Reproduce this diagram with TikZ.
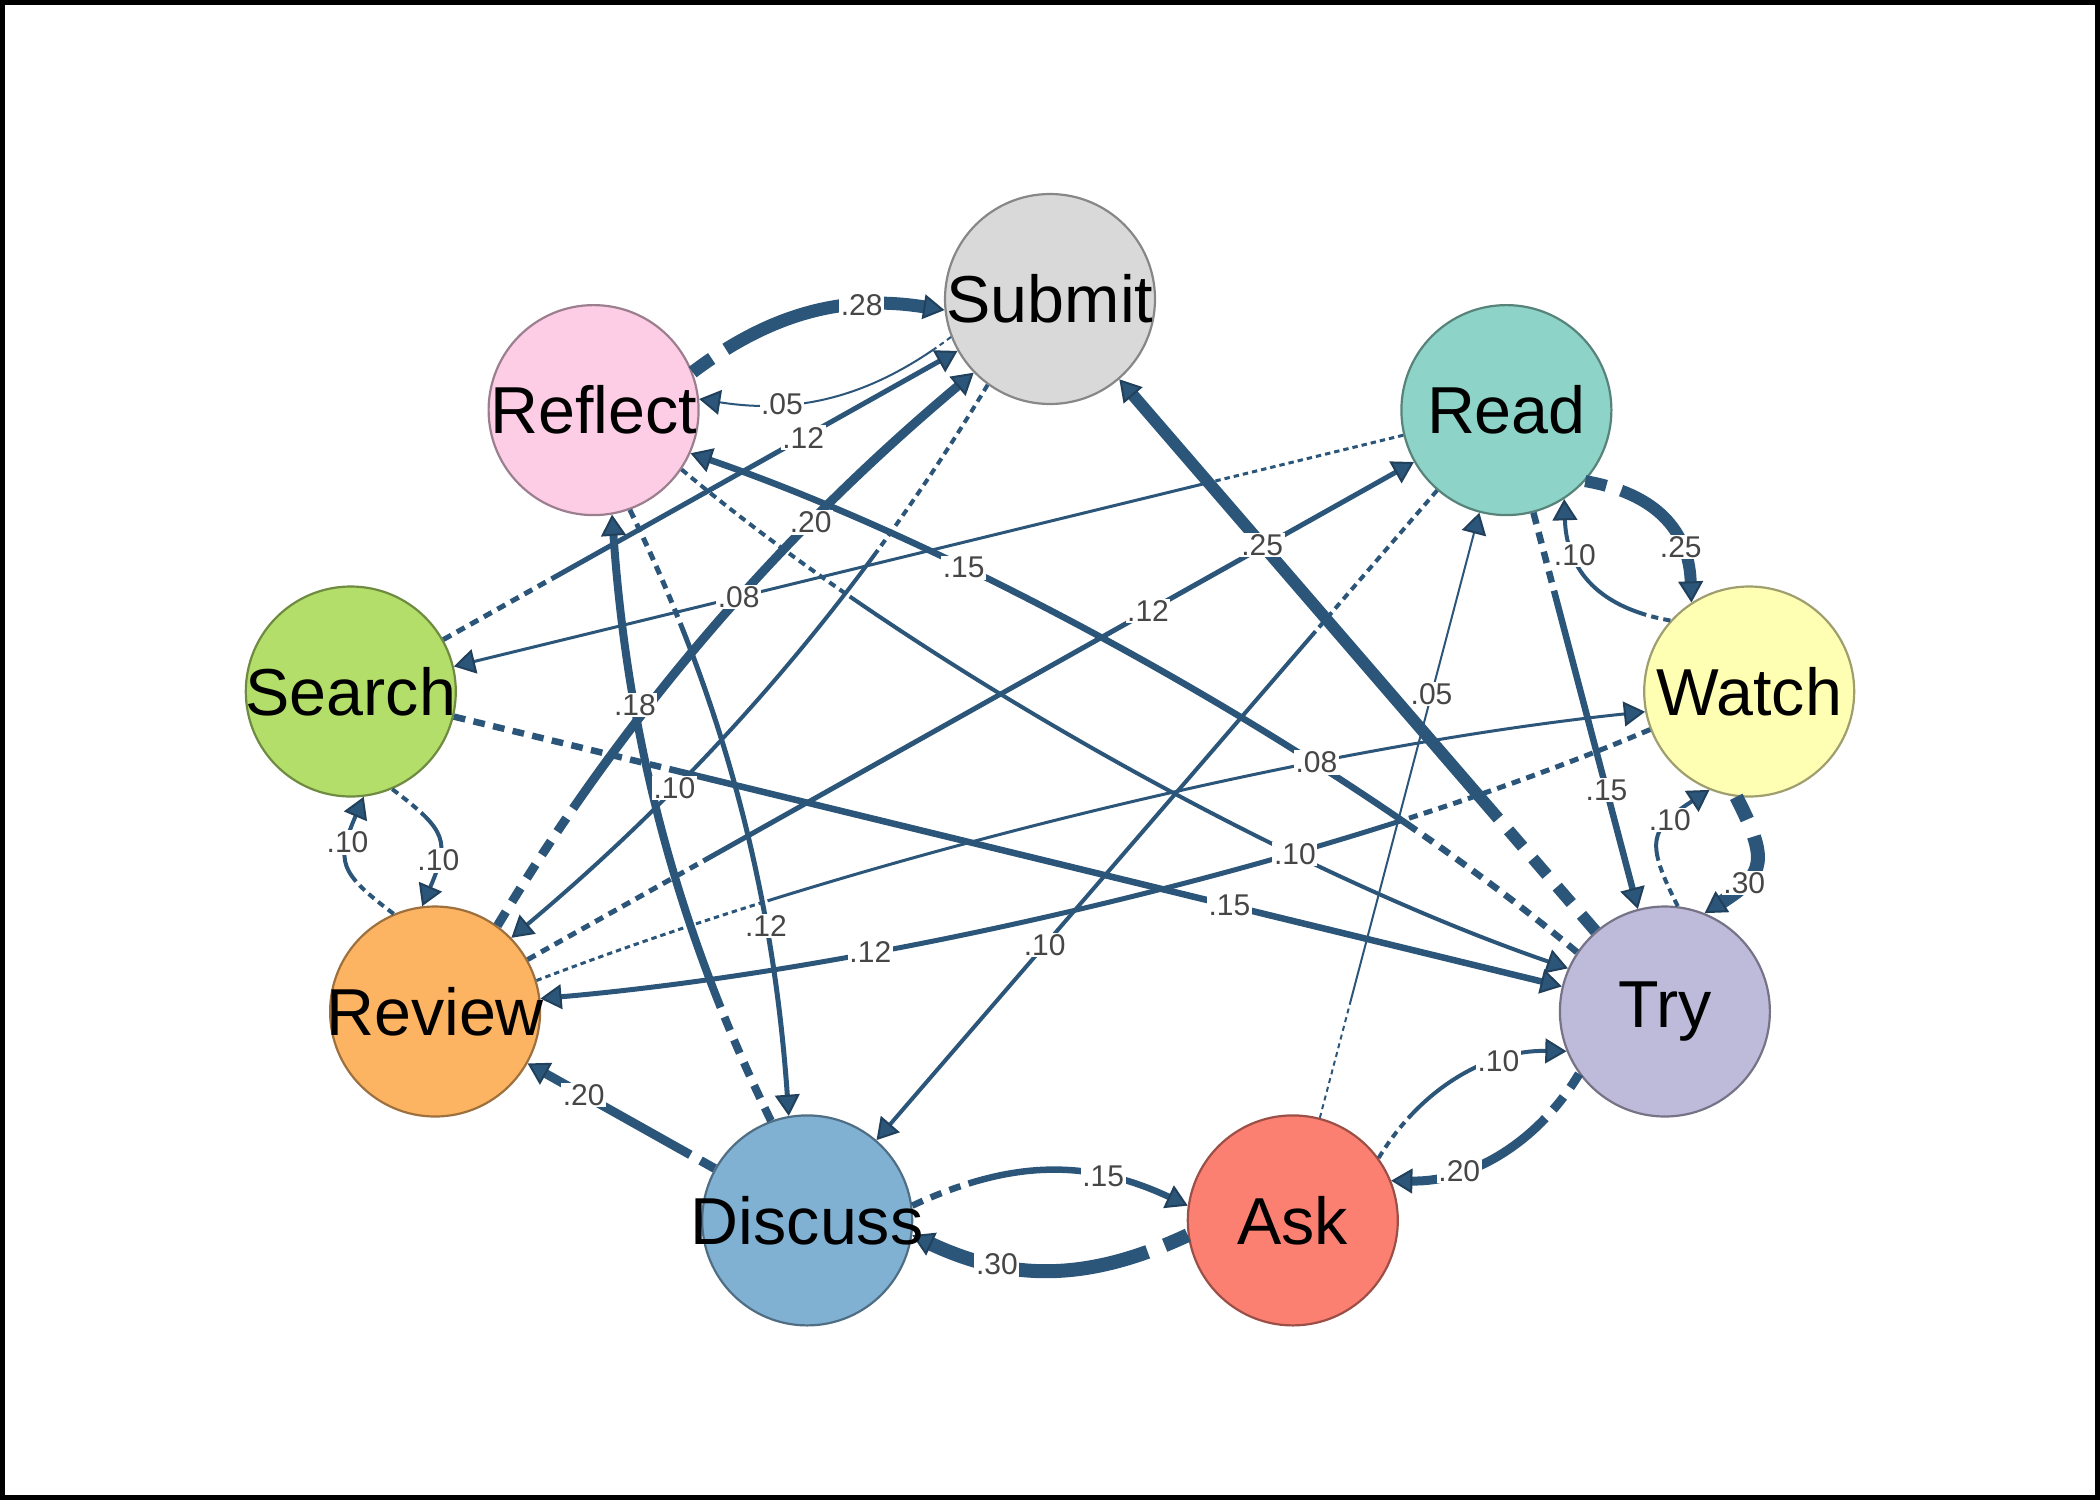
\documentclass[tikz,border=0pt]{standalone}
\usepackage{fontspec}
\setmainfont{Liberation Sans}
\usetikzlibrary{arrows.meta}
\pgfdeclarelayer{fg}
\pgfsetlayers{main,fg}
\definecolor{ecol}{HTML}{2C5679}
\definecolor{lcol}{RGB}{70,70,70}
\definecolor{cSubmit}{HTML}{D9D9D9}
\definecolor{cReflect}{HTML}{FCCDE5}
\definecolor{cRead}{HTML}{8DD3C7}
\definecolor{cSearch}{HTML}{B3DE69}
\definecolor{cWatch}{HTML}{FFFFB3}
\definecolor{cReview}{HTML}{FDB462}
\definecolor{cTry}{HTML}{BEBADA}
\definecolor{cDiscuss}{HTML}{80B1D3}
\definecolor{cAsk}{HTML}{FB8072}
\newcount\dashcnt
\newcommand\mkdash[3]{%
  \gdef\dashres{}%
  \dashcnt=0
  \loop\ifnum\dashcnt<#1\relax
    \xdef\dashres{\dashres on #2pt off #3pt }%
    \advance\dashcnt by 1
  \repeat
  \xdef\dashres{\dashres on 3000pt off 1pt}%
}
\newcounter{lab}
% #1 width px, #2 dashed length px, #3 path, #4 label
\newcommand\E[4]{%
  \pgfmathsetmacro\elw{#1*0.25}%
  \pgfmathsetmacro\eon{max(1.8*#1,5)*0.25}%
  \pgfmathsetmacro\eoff{max(1.3*#1,4)*0.25}%
  \pgfmathtruncatemacro\ereps{max(1,round(#2*0.25/(\eon+\eoff)))}%
  \mkdash{\ereps}{\eon}{\eoff}%
  \stepcounter{lab}%
  \draw[edge, line width=\elw pt, dash pattern/.expanded={\dashres}] #3 coordinate[pos=0.7] (L\thelab);
  \begin{pgfonlayer}{fg}\node[lbl] (lab\thelab) at (L\thelab) {#4};\end{pgfonlayer}%
}
\begin{document}
\begin{tikzpicture}[x=0.25pt,y=0.25pt,
  circ/.style={circle, minimum size=52.5pt, inner sep=0pt, line width=0.55pt},
  ntext/.style={font=\fontsize{16.6}{19}\selectfont, text=black, inner sep=0pt},
  edge/.style={draw=ecol, -{Triangle[length=5.3pt,width=6.2pt,line width=0.5pt,color=ecol!75!black,fill=ecol]}},
  lbl/.style={font=\fontsize{7.5}{8}\selectfont, text=lcol, fill=white, inner sep=0.4pt}
]
\useasboundingbox (0,0) rectangle (2100,-1500);
\draw[line width=1.2pt] (2.4,-2.4) rectangle (2097.6,-1497.6);

\node[circ, fill=cSubmit, draw=cSubmit!62!black] (submit) at (1050,-299) {};
\node[circ, fill=cRead, draw=cRead!62!black] (read) at (1506.4,-410.1) {};
\node[circ, fill=cWatch, draw=cWatch!62!black] (watch) at (1749.2,-691.5) {};
\node[circ, fill=cTry, draw=cTry!62!black] (try) at (1664.9,-1011.5) {};
\node[circ, fill=cAsk, draw=cAsk!62!black] (ask) at (1292.8,-1220.4) {};
\node[circ, fill=cDiscuss, draw=cDiscuss!62!black] (discuss) at (807.2,-1220.4) {};
\node[circ, fill=cReview, draw=cReview!62!black] (review) at (435.1,-1011.5) {};
\node[circ, fill=cSearch, draw=cSearch!62!black] (search) at (350.8,-691.5) {};
\node[circ, fill=cReflect, draw=cReflect!62!black] (reflect) at (593.6,-410.1) {};

% straight edges
\E{5}{120}{(search) -- (submit)}{.12}
\E{12}{140}{(try) -- (submit)}{.25}
\E{5}{195}{(review) -- (read)}{.12}
\E{3}{195}{(read) -- (search)}{.08}
\E{4}{185}{(read) -- (discuss)}{.10}
\E{2}{120}{(ask) -- (read)}{.05}
\E{6.5}{80}{(read) -- (try)}{.15}
\E{6.5}{220}{(search) -- (try)}{.15}
\E{9}{35}{(discuss) -- (review)}{.20}

% short reciprocal pairs
\E{13}{30}{(reflect.21) .. controls +(37:100) and +(171:100) .. (submit.186)}{.28}
\E{2}{20}{(submit.201) .. controls +(217:100) and +(351:100) .. (reflect.6)}{.05}
\E{4}{50}{(review.113) .. controls +(143:70) and +(247:70) .. (search.277)}{.10}
\E{4}{35}{(search.293) .. controls +(323:70) and +(67:70) .. (review.97)}{.10}
\E{12}{30}{(read.318) .. controls +(350:72) and +(92:72) .. (watch.123)}{.25}
\E{4}{30}{(watch.138) .. controls +(170:72) and +(272:72) .. (read.303)}{.10}
\E{14}{50}{(watch.263) .. controls +(297:72) and +(33:72) .. (try.68)}{.30}
\E{4}{45}{(try.83) .. controls +(117:72) and +(213:72) .. (watch.248)}{.10}
\E{9}{50}{(try.216) .. controls +(239:80) and +(359:80) .. (ask.22)}{.20}
\E{4}{45}{(ask.36) .. controls +(59:80) and +(179:80) .. (try.202)}{.10}
\E{6.5}{55}{(discuss.8) .. controls +(25:110) and +(155:110) .. (ask.172)}{.15}
\E{14}{50}{(ask.188) .. controls +(205:110) and +(335:110) .. (discuss.352)}{.30}

% long reciprocal pairs
\E{9}{150}{(review.54) .. controls +(59:250) and +(220:250) .. (submit.224)}{.20}
\E{4}{200}{(submit.234) .. controls +(239:250) and +(40:250) .. (review.44)}{.10}
\E{5}{125}{(reflect.290) .. controls +(296:220) and +(94:220) .. (discuss.100)}{.12}
\E{8}{120}{(discuss.110) .. controls +(116:220) and +(274:220) .. (reflect.280)}{.18}
\E{3}{240}{(review.17) .. controls +(21:340) and +(186:340) .. (watch.191)}{.08}
\E{5}{260}{(watch.201) .. controls +(203:340) and +(5:340) .. (review.7)}{.12}
\E{4}{210}{(reflect.326) .. controls +(320:300) and +(161:300) .. (try.156)}{.10}
\E{6.5}{200}{(try.146) .. controls +(140:300) and +(341:300) .. (reflect.336)}{.15}

\begin{pgfonlayer}{fg}
\node[ntext] (submit-t) at (submit) {Submit};
\node[ntext] (read-t) at (read) {Read};
\node[ntext] (watch-t) at (watch) {Watch};
\node[ntext] (try-t) at (try) {Try};
\node[ntext] (ask-t) at (ask) {Ask};
\node[ntext] (discuss-t) at (discuss) {Discuss};
\node[ntext] (review-t) at (review) {Review};
\node[ntext] (search-t) at (search) {Search};
\node[ntext] (reflect-t) at (reflect) {Reflect};
\end{pgfonlayer}
\end{tikzpicture}
\end{document}
